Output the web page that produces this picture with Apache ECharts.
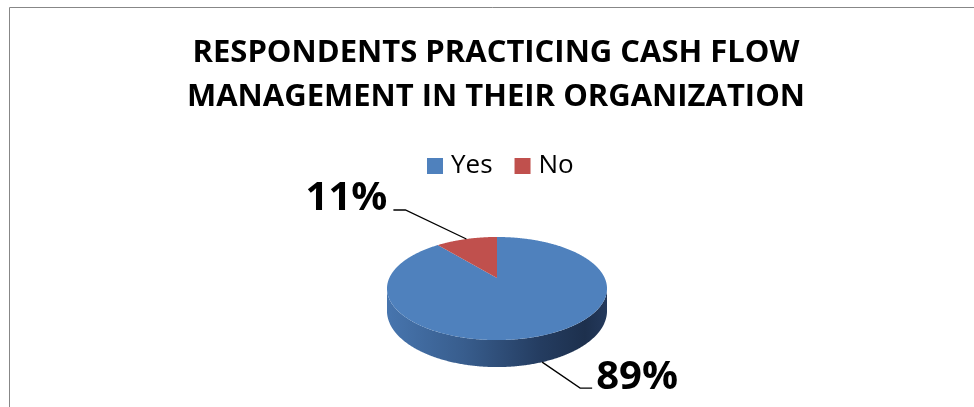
<!DOCTYPE html>
<html>
<head>
<meta charset="utf-8">
<script src="https://cdn.jsdelivr.net/npm/echarts@6/dist/echarts.min.js"></script>
<style>
  html, body { margin: 0; padding: 0; background: #ffffff; }
  #chart { width: 974px; height: 407px; }
</style>
</head>
<body>
<div id="chart"></div>
<script>
// Survey answers (percent of respondents)
const categories = ['Yes', 'No'];
const shares = [89, 11];
const sliceColors = ['#4F81BD', '#C0504D'];
const chartTitle = 'RESPONDENTS PRACTICING CASH FLOW\nMANAGEMENT IN THEIR ORGANIZATION';

// Tilted disc: centre, half-axes, perspective factor and thickness
const disc = { cx: 497, cy: 278, a: 107.7, b: 49.4, k: 0.204, depth: 21.5 };
// Leader line for each label: first bend (dx, dy) from the slice, then a short horizontal run
const leaderBends = [[38, 26, 12], [-61, -29, -12]];
const FONT = '"Open Sans", "Noto Sans", sans-serif';

const total = shares.reduce((s, v) => s + v, 0);
const DEG = Math.PI / 180;
const silhouetteA = Math.acos(-disc.k);
const silhouetteB = 2 * Math.PI - silhouetteA;

// Angle measured clockwise from 12 o'clock on the disc, projected to the screen
function project(theta, lower) {
  const u = Math.sin(theta), w = Math.cos(theta);
  const d = 1 + disc.k * w;
  return [disc.cx + disc.a * u / d, disc.cy - disc.b * w / d + (lower ? disc.depth / d : 0)];
}
function rim(t0, t1, lower) {
  const n = Math.max(2, Math.ceil((t1 - t0) / (0.5 * DEG)));
  const pts = [];
  for (let i = 0; i <= n; i++) pts.push(project(t0 + (t1 - t0) * i / n, lower));
  return pts;
}

function renderSlice(params, api) {
  const idx = params.seriesIndex;
  const value = api.value(0);
  let before = 0;
  for (let i = 0; i < idx; i++) before += shares[i];
  const t0 = before / total * 2 * Math.PI;
  const t1 = (before + value) / total * 2 * Math.PI;
  const children = [];

  // front wall, only where it faces the viewer
  const wa = Math.max(t0, silhouetteA), wb = Math.min(t1, silhouetteB);
  if (wb > wa) {
    children.push({
      type: 'polygon',
      z2: 1,
      shape: { points: rim(wa, wb, false).concat(rim(wa, wb, true).reverse()) },
      style: {
        fill: new echarts.graphic.LinearGradient(0, 0, 1, 0, [
          { offset: 0, color: '#4775AE' },
          { offset: 0.35, color: '#385D8D' },
          { offset: 0.7, color: '#243C60' },
          { offset: 0.9, color: '#1D304D' },
          { offset: 1, color: '#24395C' }
        ])
      }
    });
  }

  // top face
  children.push({
    type: 'polygon',
    z2: 2,
    shape: { points: [[disc.cx, disc.cy]].concat(rim(t0, t1, false)) },
    style: { fill: sliceColors[idx] }
  });

  // value label with leader line
  const tm = (t0 + t1) / 2;
  const anchor = project(tm, Math.cos(tm) < 0);
  const bend = leaderBends[idx];
  const p1 = [anchor[0] + bend[0], anchor[1] + bend[1]];
  const p2 = [p1[0] + bend[2], p1[1]];
  children.push({
    type: 'polyline',
    z2: 3,
    shape: { points: [anchor, p1, p2] },
    style: { stroke: '#000000', lineWidth: 1.3, fill: null }
  });
  const toRight = bend[2] > 0;
  children.push({
    type: 'text',
    z2: 4,
    x: p2[0] + (toRight ? 4 : -6),
    y: p2[1] - 11,
    style: {
      text: value + '%',
      fill: '#000000',
      fontSize: 40,
      fontWeight: 'bold',
      fontFamily: FONT,
      align: toRight ? 'left' : 'right',
      verticalAlign: 'middle'
    }
  });

  return { type: 'group', children };
}

const chart = echarts.init(document.getElementById('chart'), null, { renderer: 'canvas' });
chart.setOption({
  animation: false,
  backgroundColor: '#ffffff',
  title: {
    text: chartTitle,
    left: 496,
    top: 31,
    textAlign: 'center',
    padding: 0,
    textStyle: {
      fontFamily: FONT,
      fontSize: 31,
      fontWeight: 'bold',
      color: '#000000',
      lineHeight: 44
    }
  },
  legend: {
    data: categories,
    left: 422,
    top: 148,
    icon: 'rect',
    itemWidth: 16,
    itemHeight: 16,
    itemGap: 22,
    textStyle: {
      fontFamily: FONT,
      fontSize: 26,
      color: '#000000',
      padding: [0, 0, 0, 3]
    }
  },
  graphic: [{
    type: 'rect',
    silent: true,
    shape: { x: 9.5, y: 7.5, width: 1200, height: 800 },
    style: { fill: 'none', stroke: '#878787', lineWidth: 1 }
  }],
  series: categories.map((name, i) => ({
    type: 'custom',
    name: name,
    coordinateSystem: 'none',
    itemStyle: { color: sliceColors[i] },
    renderItem: renderSlice,
    data: [[shares[i]]]
  }))
});
</script>
</body>
</html>
